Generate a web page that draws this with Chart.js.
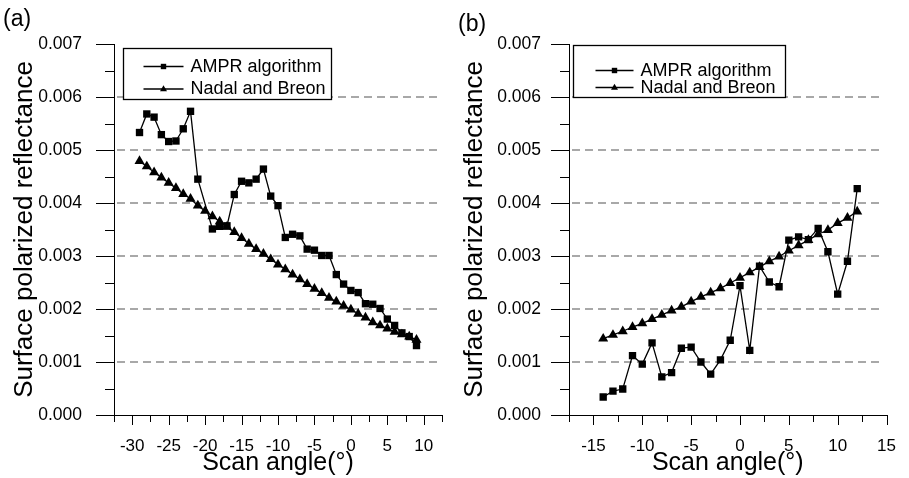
<!DOCTYPE html>
<html>
<head>
<meta charset="utf-8">
<script src="https://cdn.jsdelivr.net/npm/chart.js@4.4.1/dist/chart.umd.min.js"></script>
<style>
  html, body { margin: 0; padding: 0; background: #fff; }
  #wrap { position: relative; width: 909px; height: 478px; overflow: hidden; font-family: 'Liberation Sans', Arial, sans-serif; }
  .panel { position: absolute; top: 0; height: 478px; }
  .tag { position: absolute; font-size: 23px; line-height: 1; color: #000; }
</style>
</head>
<body>
<div id="wrap">
  <div class="panel" style="left:0;width:455px"><canvas id="chartA" width="455" height="478"></canvas></div>
  <div class="panel" style="left:455px;width:454px"><canvas id="chartB" width="454" height="478"></canvas></div>
  <div class="tag" style="left:3px;top:7px">(a)</div>
  <div class="tag" style="left:458px;top:12px">(b)</div>
</div>
<script>
const FONT = "'Liberation Sans', Arial, sans-serif";

// panel (a)
const anglesA = [-29, -28, -27, -26, -25, -24, -23, -22, -21, -20, -19, -18, -17, -16, -15, -14, -13, -12, -11, -10,
  -9, -8, -7, -6, -5, -4, -3, -2, -1, 0, 1, 2, 3, 4, 5, 6, 7, 8, 9];
const amprAnglesA = [-29, -28, -27, -26, -25, -24, -23, -22, -21, -19, -18, -17, -16, -15, -14, -13, -12, -11, -10,
  -9, -8, -7, -6, -5, -4, -3, -2, -1, 0, 1, 2, 3, 4, 5, 6, 7, 8, 9];
const amprA = [0.00533, 0.00568, 0.00562, 0.00529, 0.00516, 0.00517, 0.00540, 0.00573, 0.00445,
  0.00351, 0.00356, 0.00357, 0.00416, 0.00441, 0.00438, 0.00445, 0.00464, 0.00413, 0.00395,
  0.00335, 0.00341, 0.00338, 0.00313, 0.00311, 0.00301, 0.00301, 0.00265, 0.00247,
  0.00235, 0.00231, 0.00210, 0.00209, 0.00201, 0.00181, 0.00169, 0.00155, 0.00148, 0.00131];
const nadalA = [0.00479, 0.00469, 0.00458, 0.00448, 0.00438, 0.00428, 0.00417, 0.00408, 0.00395, 0.00385,
  0.00375, 0.00365, 0.00355, 0.00345, 0.00334, 0.00323, 0.00313, 0.00304, 0.00294, 0.00284,
  0.00275, 0.00265, 0.00256, 0.00247, 0.00238, 0.00230, 0.00221, 0.00214, 0.00206,
  0.00199, 0.00191, 0.00184, 0.00175, 0.00169, 0.00163, 0.00157, 0.00152, 0.00148, 0.00142];

// panel (b)
const anglesB = [-14, -13, -12, -11, -10, -9, -8, -7, -6, -5, -4, -3, -2, -1, 0, 1, 2, 3, 4, 5, 6, 7, 8, 9, 10, 11, 12];
const amprB = [0.00034, 0.00045, 0.00049, 0.00112, 0.00096, 0.00136, 0.00072, 0.00080, 0.00126, 0.00128,
  0.00100, 0.00077, 0.00104, 0.00141, 0.00244, 0.00122, 0.00281, 0.00251, 0.00242, 0.00330,
  0.00336, 0.00331, 0.00352, 0.00308, 0.00228, 0.00290, 0.00427];
const nadalB = [0.00144, 0.00151, 0.00158, 0.00166, 0.00173, 0.00181, 0.00189, 0.00197, 0.00204, 0.00214,
  0.00223, 0.00231, 0.00239, 0.00249, 0.00259, 0.00269, 0.00279, 0.00290, 0.00299, 0.00310,
  0.00320, 0.00330, 0.00341, 0.00349, 0.00362, 0.00372, 0.00384];

const SERIES_NAMES = ['AMPR algorithm', 'Nadal and Breon'];
const Y_MIN = 0, Y_MAX = 0.007;

const pts = (xs, ys) => xs.map((x, i) => ({ x, y: ys[i] }));
const isMajorY = v => Math.abs(v * 1000 - Math.round(v * 1000)) < 1e-6;
const isMajorX = v => Math.abs(v / 5 - Math.round(v / 5)) < 1e-6;

// dashed grid + outward tick marks (major / minor)
const frame = {
  id: 'frame',
  beforeDatasetsDraw(chart) {
    const { ctx, chartArea: a, scales: { y } } = chart;
    ctx.save();
    ctx.strokeStyle = '#8c8c8c';
    ctx.lineWidth = 1.5;
    ctx.setLineDash([8, 5]);
    y.ticks.forEach(t => {
      if (!isMajorY(t.value) || t.value <= Y_MIN + 1e-9 || t.value >= Y_MAX - 1e-9) return;
      const py = Math.round(y.getPixelForValue(t.value));
      ctx.beginPath();
      ctx.moveTo(a.left + 3, py);
      ctx.lineTo(a.right - 3, py);
      ctx.stroke();
    });
    ctx.restore();
  },
  afterDraw(chart) {
    const { ctx, chartArea: a, scales: { x, y } } = chart;
    ctx.save();
    ctx.strokeStyle = '#000';
    ctx.lineWidth = 1;
    y.ticks.forEach(t => {
      const py = Math.round(y.getPixelForValue(t.value)) + 0.5;
      const len = isMajorY(t.value) ? 18 : 9;
      ctx.beginPath();
      ctx.moveTo(a.left - len, py);
      ctx.lineTo(a.left, py);
      ctx.stroke();
    });
    x.ticks.forEach(t => {
      const px = Math.round(x.getPixelForValue(t.value)) + 0.5;
      const len = isMajorX(t.value) ? 10 : 7;
      ctx.beginPath();
      ctx.moveTo(px, a.bottom);
      ctx.lineTo(px, a.bottom + len);
      ctx.stroke();
    });
    ctx.restore();
  }
};

// boxed legend drawn inside the plot
const boxLegend = {
  id: 'boxLegend',
  afterDatasetsDraw(chart, args, o) {
    const { ctx, chartArea: a } = chart;
    const bx = Math.round(a.left + o.dx) + 0.5, by = Math.round(a.top + o.dy) + 0.5;
    ctx.save();
    ctx.fillStyle = '#fff';
    ctx.fillRect(bx, by, o.w, o.h);
    ctx.strokeStyle = '#000';
    ctx.lineWidth = 1.3;
    ctx.strokeRect(bx, by, o.w, o.h);
    chart.data.datasets.forEach((ds, i) => {
      const ry = by + o.rows[i];
      ctx.strokeStyle = '#000';
      ctx.lineWidth = 1.3;
      ctx.beginPath();
      ctx.moveTo(bx + o.lineFrom, ry);
      ctx.lineTo(bx + o.lineTo, ry);
      ctx.stroke();
      const mx = bx + (o.lineFrom + o.lineTo) / 2;
      ctx.fillStyle = '#000';
      ctx.beginPath();
      if (ds.pointStyle === 'rect') {
        ctx.rect(mx - 2.7, ry - 2.7, 5.4, 5.4);
      } else {
        ctx.moveTo(mx, ry - 3.8);
        ctx.lineTo(mx + 3.5, ry + 2.2);
        ctx.lineTo(mx - 3.5, ry + 2.2);
        ctx.closePath();
      }
      ctx.fill();
      ctx.font = '18px ' + FONT;
      ctx.textBaseline = 'middle';
      ctx.textAlign = 'left';
      ctx.fillText(ds.label, bx + o.textX, ry + 0.5);
    });
    ctx.restore();
  }
};

function makeChart(canvas, cfg) {
  return new Chart(canvas, {
    type: 'scatter',
    data: {
      datasets: [
        {
          label: SERIES_NAMES[0],
          data: pts(cfg.amprX, cfg.amprY),
          showLine: true,
          borderColor: '#000',
          backgroundColor: '#000',
          borderWidth: 1.3,
          pointStyle: 'rect',
          pointRadius: 5.2,
          pointBorderWidth: 0,
        },
        {
          label: SERIES_NAMES[1],
          data: pts(cfg.nadalX, cfg.nadalY),
          showLine: true,
          borderColor: '#000',
          backgroundColor: '#000',
          borderWidth: 1.3,
          pointStyle: 'triangle',
          pointRadius: 5.8,
          pointBorderWidth: 0,
        },
      ],
    },
    options: {
      responsive: false,
      animation: false,
      devicePixelRatio: 1,
      layout: { padding: { top: 44, right: cfg.padRight, left: 0, bottom: 0 } },
      plugins: {
        legend: { display: false },
        tooltip: { enabled: false },
        boxLegend: cfg.legend,
      },
      scales: {
        x: {
          type: 'linear',
          min: cfg.xMin,
          max: cfg.xMax,
          afterFit: s => { s.height = 63; },
          grid: { display: false },
          border: { color: '#000', width: 1 },
          ticks: {
            stepSize: 2.5,
            autoSkip: false,
            maxTicksLimit: 100,
            maxRotation: 0,
            padding: 13,
            color: '#000',
            font: { family: FONT, size: 17 },
            callback: v => (isMajorX(v) ? String(Math.round(v)) : ''),
          },
          title: {
            display: true,
            text: 'Scan angle(°)',
            color: '#000',
            font: { family: FONT, size: 25 },
            padding: { top: 0, bottom: 0 },
          },
        },
        y: {
          min: Y_MIN,
          max: Y_MAX,
          afterFit: s => { s.width = 114; },
          grid: { display: false },
          border: { color: '#000', width: 1 },
          ticks: {
            stepSize: 0.0005,
            autoSkip: false,
            maxTicksLimit: 100,
            padding: cfg.yLabelPad,
            color: '#000',
            font: { family: FONT, size: 17.5 },
            callback: v => (isMajorY(v) ? v.toFixed(3) : ''),
          },
          title: {
            display: true,
            text: 'Surface polarized reflectance',
            color: '#000',
            font: { family: FONT, size: 26 },
            padding: { top: cfg.yTitlePad, bottom: 0 },
          },
        },
      },
    },
    plugins: [frame, boxLegend],
  });
}

makeChart(document.getElementById('chartA'), {
  amprX: amprAnglesA, amprY: amprA, nadalX: anglesA, nadalY: nadalA,
  xMin: -32.5, xMax: 12.5, padRight: 11, yLabelPad: 24, yTitlePad: 9,
  legend: { dx: 8.5, dy: 3.5, w: 208, h: 51, rows: [18, 40.5], lineFrom: 20, lineTo: 60, textX: 67 },
});

makeChart(document.getElementById('chartB'), {
  amprX: anglesB, amprY: amprB, nadalX: anglesB, nadalY: nadalB,
  xMin: -17.5, xMax: 15, padRight: 10, yLabelPad: 20, yTitlePad: 4,
  legend: { dx: 4.3, dy: 1, w: 212, h: 52, rows: [25, 42], lineFrom: 22, lineTo: 60, textX: 67 },
});
</script>
</body>
</html>
